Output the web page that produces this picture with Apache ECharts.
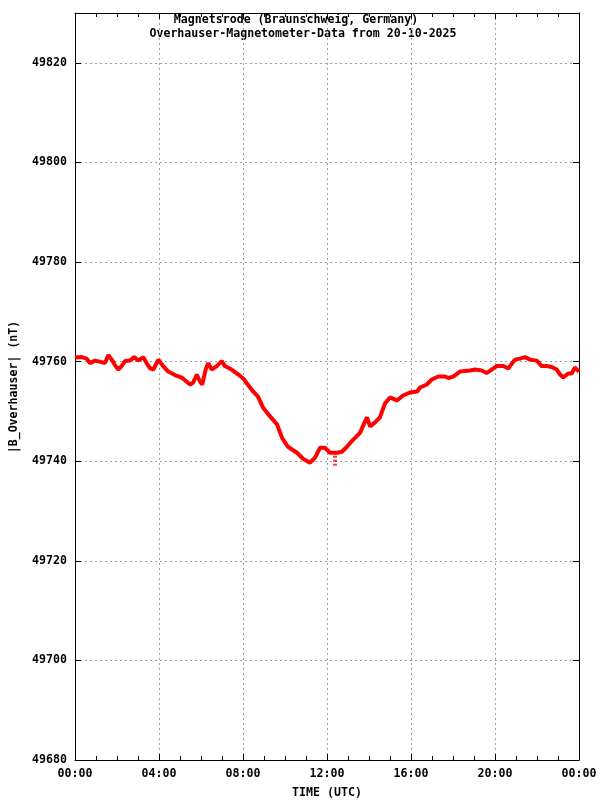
<!DOCTYPE html>
<html><head><meta charset="utf-8">
<script src="https://cdn.jsdelivr.net/npm/echarts@6/dist/echarts.min.js"></script>
<style>html,body{margin:0;padding:0;background:#fff}#c{width:600px;height:800px}</style>
</head><body><div id="c"></div>
<script>
// time of day in hours (UTC)
const hours = [0.00,0.08,0.32,0.56,0.71,0.95,1.27,1.43,1.59,1.75,1.90,2.06,2.22,2.38,2.62,2.82,3.01,3.25,3.41,3.57,3.73,3.97,4.20,4.44,4.76,5.08,5.48,5.63,5.80,5.95,6.06,6.22,6.35,6.51,6.75,6.99,7.14,7.46,7.78,8.06,8.19,8.48,8.71,8.95,9.29,9.62,9.86,10.14,10.57,10.86,11.19,11.43,11.67,11.90,12.14,12.48,12.71,12.95,13.24,13.57,13.90,14.05,14.29,14.52,14.76,15.00,15.33,15.62,15.95,16.29,16.43,16.75,16.99,17.30,17.62,17.78,18.01,18.33,18.57,18.81,19.05,19.37,19.60,19.84,20.08,20.40,20.63,20.95,21.19,21.43,21.67,21.99,22.22,22.46,22.70,22.94,23.10,23.25,23.49,23.65,23.81,24.00];
// |B| in nT
const values = [49760.8,49760.7,49760.9,49760.6,49759.7,49760.2,49759.9,49759.7,49761.3,49760.4,49759.3,49758.4,49759.1,49760.1,49760.2,49760.9,49760.2,49760.9,49759.7,49758.7,49758.4,49760.4,49759.1,49758.0,49757.3,49756.8,49755.4,49755.8,49757.4,49756.0,49755.4,49758.4,49759.7,49758.4,49759.1,49760.1,49759.1,49758.4,49757.4,49756.4,49755.6,49754.0,49753.0,49750.8,49749.0,49747.4,49744.7,49742.9,49741.7,49740.5,49739.7,49740.7,49742.7,49742.7,49741.7,49741.7,49741.9,49742.9,49744.3,49745.7,49748.8,49747.0,49747.8,49748.8,49751.6,49752.8,49752.2,49753.2,49753.8,49754.0,49754.8,49755.4,49756.4,49757.0,49757.0,49756.7,49757.0,49758.0,49758.1,49758.2,49758.4,49758.2,49757.7,49758.4,49759.1,49759.1,49758.6,49760.4,49760.6,49760.9,49760.4,49760.2,49759.1,49759.1,49758.9,49758.4,49757.4,49756.8,49757.6,49757.6,49758.8,49758.0];
// isolated outlier readings
const spikeHours = [12.38,12.38,12.38];
const spikeValues = [49740.9,49740.1,49739.3];
const xTicks = [0,4,8,12,16,20,24];
const yMin = 49680, yMax = 49830, yStep = 20;

const FONT = 'DejaVu Sans Mono';
const chart = echarts.init(document.getElementById('c'), null, {renderer:'canvas'});
const pad = n => (n<10?'0':'')+n;
const gridLine = {show:true, lineStyle:{color:'#a0a0a0', type:[2,3], width:1}};
const axisLine = {show:true, onZero:false, lineStyle:{color:'#000', width:1}};
chart.setOption({
  animation:false,
  backgroundColor:'#fff',
  grid:{left:75, right:21, top:13, bottom:40, containLabel:false},
  xAxis:[{
    type:'value', min:xTicks[0], max:xTicks[xTicks.length-1], interval:4, position:'bottom',
    axisLine:axisLine,
    axisTick:{show:true, inside:true, length:6, lineStyle:{color:'#000'}},
    minorTick:{show:true, splitNumber:4, length:4, lineStyle:{color:'#000'}},
    axisLabel:{fontFamily:FONT, fontWeight:'bold', fontSize:11.6, color:'#000', margin:8,
      formatter:v=>pad(v%24)+':00'},
    splitLine:gridLine
  },{
    type:'value', min:xTicks[0], max:xTicks[xTicks.length-1], interval:4, position:'top',
    axisLine:axisLine,
    axisTick:{show:true, inside:true, length:6, lineStyle:{color:'#000'}},
    minorTick:{show:true, splitNumber:4, length:4, lineStyle:{color:'#000'}},
    axisLabel:{show:false}, splitLine:{show:false}
  }],
  yAxis:[{
    type:'value', min:yMin, max:yMax, interval:yStep, position:'left',
    axisLine:axisLine,
    axisTick:{show:true, inside:true, length:6, lineStyle:{color:'#000'}},
    axisLabel:{fontFamily:FONT, fontWeight:'bold', fontSize:11.6, color:'#000', margin:8,
      formatter:v=>((v-yMin)%yStep===0?String(v):''), showMaxLabel:false},
    splitLine:gridLine
  },{
    type:'value', min:yMin, max:yMax, interval:yStep, position:'right',
    axisLine:axisLine,
    axisTick:{show:true, inside:true, length:6, lineStyle:{color:'#000'}},
    axisLabel:{show:false}, splitLine:{show:false}
  }],
  series:[{
    type:'line', xAxisIndex:0, yAxisIndex:0,
    data:hours.map((h,i)=>[h,values[i]]),
    showSymbol:false, smooth:false,
    lineStyle:{color:'#ff0000', width:4}, z:5
  },{
    type:'scatter', xAxisIndex:0, yAxisIndex:0,
    data:spikeHours.map((h,i)=>[h,spikeValues[i]]),
    symbol:'rect', symbolSize:[4,2], itemStyle:{color:'#ff0000'}, z:5
  }],
  graphic:[
    {type:'text', x:296, y:20, style:{text:'Magnetsrode (Braunschweig, Germany)', font:'bold 11.6px "'+FONT+'"', fill:'#000', align:'center', verticalAlign:'middle'}},
    {type:'text', x:303, y:34, style:{text:'Overhauser-Magnetometer-Data from 20-10-2025', font:'bold 11.6px "'+FONT+'"', fill:'#000', align:'center', verticalAlign:'middle'}},
    {type:'text', x:327, y:793, style:{text:'TIME (UTC)', font:'bold 11.6px "'+FONT+'"', fill:'#000', align:'center', verticalAlign:'middle'}},
    {type:'text', x:14, y:387, rotation:Math.PI/2, style:{text:'|B_Overhauser| (nT)', font:'bold 11.6px "'+FONT+'"', fill:'#000', align:'center', verticalAlign:'middle'}}
  ]
});
</script></body></html>
